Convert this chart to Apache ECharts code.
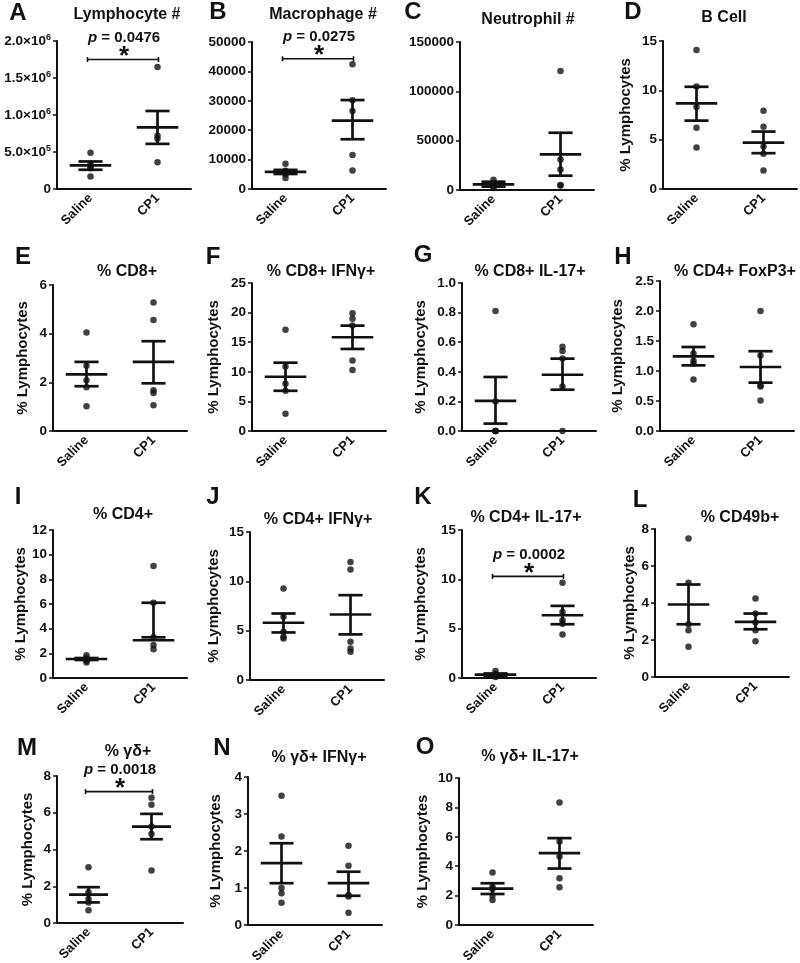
<!DOCTYPE html>
<html>
<head>
<meta charset="utf-8">
<script src="https://cdn.jsdelivr.net/npm/echarts@6.0.0/dist/echarts.min.js"></script>
<style>
html, body { margin: 0; padding: 0; background: #fff; }
#main { width: 800px; height: 963px; }
</style>
</head>
<body>
<div id="main"></div>
<script>
// groups on the x axis of every panel
var groups = ['Saline', 'CP1'];
var letters = ['A', 'B', 'C', 'D', 'E', 'F', 'G', 'H', 'I', 'J', 'K', 'L', 'M', 'N', 'O'];
var titles = ['Lymphocyte #', 'Macrophage #', 'Neutrophil #', 'B Cell',
    '% CD8+', '% CD8+ IFNγ+', '% CD8+ IL-17+', '% CD4+ FoxP3+',
    '% CD4+', '% CD4+ IFNγ+', '% CD4+ IL-17+', '% CD49b+',
    '% γδ+', '% γδ+ IFNγ+', '% γδ+ IL-17+'];

// individual animals
var salinePts = [
    [490000, 330000, 300000, 280000, 170000],
    [8600, 6200, 5800, 5000, 3700],
    [10500, 7000, 6000, 3500, 2000],
    [14.1, 10.4, 8.3, 6.2, 4.2],
    [4.05, 2.68, 2.09, 1.8, 1.02],
    [17.1, 10.9, 8.0, 6.8, 2.9],
    [0.81, 0.2, 0, 0, 0],
    [1.78, 1.29, 1.17, 1.12, 0.86],
    [1.85, 1.6, 1.5, 1.4, 1.25],
    [9.27, 6.4, 4.89, 4.38, 4.21],
    [0.7, 0.4, 0.3, 0.2, 0.1],
    [7.49, 5.09, 2.85, 2.53, 1.63],
    [3.04, 1.67, 1.3, 1.12, 0.69],
    [3.49, 2.39, 1.0, 0.86, 0.6],
    [3.57, 2.6, 2.45, 2.0, 1.7]
];
var cp1Pts = [
    [1650000, 720000, 680000, 360000],
    [42400, 30200, 26500, 11600, 6300],
    [120700, 31000, 20900, 5000, 4500],
    [7.94, 6.32, 4.3, 3.56, 1.88],
    [5.28, 4.56, 1.67, 1.56, 1.06],
    [19.9, 18.95, 17.8, 11.9, 10.3],
    [0.57, 0.54, 0.49, 0.3, 0],
    [2.0, 1.26, 0.76, 0.74, 0.51],
    [9.08, 6.1, 3.3, 2.68, 2.33],
    [11.97, 11.2, 3.88, 3.2, 2.87],
    [9.65, 6.7, 5.86, 5.5, 4.4],
    [4.24, 3.43, 2.95, 2.53, 1.93],
    [6.82, 6.43, 5.25, 4.85, 2.86],
    [2.14, 1.6, 0.81, 0.77, 0.33],
    [8.34, 5.68, 4.66, 3.18, 2.57]
];

// [saline, cp1] centre line and error bar ends
var means = [
    [318000, 834000], [5800, 23250], [5730, 36070], [8.68, 4.71],
    [2.33, 2.84], [9.16, 15.84], [0.203, 0.38], [1.244, 1.067],
    [1.54, 3.06], [5.8, 6.64], [0.35, 6.36], [3.92, 2.98],
    [1.54, 5.25], [1.67, 1.13], [2.48, 4.89]
];
var errHigh = [
    [372000, 1054000], [6500, 30250], [8400, 58000], [10.36, 5.82],
    [2.84, 3.69], [11.54, 17.8], [0.365, 0.489], [1.4, 1.33],
    [1.62, 6.1], [6.74, 8.6], [0.46, 7.31], [5.0, 3.43],
    [1.95, 5.94], [2.21, 1.44], [2.84, 5.91]
];
var errLow = [
    [260000, 610000], [5100, 16930], [3400, 14500], [6.93, 3.63],
    [1.84, 1.96], [6.79, 13.86], [0.05, 0.279], [1.094, 0.806],
    [1.46, 3.3], [4.82, 4.62], [0.24, 5.45], [2.85, 2.58],
    [1.12, 4.56], [1.13, 0.79], [2.11, 3.84]
];

// y axis
var yStep = [500000, 10000, 50000, 5, 2, 5, 0.2, 0.5, 2, 5, 5, 2, 2, 1, 2];
var yTickLabels = [
    ['0', '5.0×10{s|5}', '1.0×10{s|6}', '1.5×10{s|6}', '2.0×10{s|6}'],
    ['0', '10000', '20000', '30000', '40000', '50000'],
    ['0', '50000', '100000', '150000'],
    ['0', '5', '10', '15'],
    ['0', '2', '4', '6'],
    ['0', '5', '10', '15', '20', '25'],
    ['0.0', '0.2', '0.4', '0.6', '0.8', '1.0'],
    ['0.0', '0.5', '1.0', '1.5', '2.0', '2.5'],
    ['0', '2', '4', '6', '8', '10', '12'],
    ['0', '5', '10', '15'],
    ['0', '5', '10', '15'],
    ['0', '2', '4', '6', '8'],
    ['0', '2', '4', '6', '8'],
    ['0', '1', '2', '3', '4'],
    ['0', '2', '4', '6', '8', '10']
];
var yName = '% Lymphocytes';

// significance brackets
var sigPanel = [0, 1, 10, 12];
var sigLevel = [1750000, 44300, 10.3, 7.15];
var sigP = ['0.0476', '0.0275', '0.0002', '0.0018'];

// layout (pixels)
var gridLeft = [57, 252, 460, 663, 53, 252, 462, 660, 53, 250, 462, 655, 57, 248, 459];
var gridTop = [41, 42, 42, 41, 285, 283, 283, 281, 530, 532, 530, 529, 776, 777, 778];
var gridHeight = [148, 147, 148, 148, 146, 148, 148, 150, 148, 148, 148, 148, 147, 148, 147];
var gridWidth = [134, 134, 134, 134, 134, 134, 134, 134, 134, 134, 134, 134, 126, 134, 134];
var nameGap = [0, 0, 0, 30, 23, 31, 34, 35, 23, 29, 34, 14, 22, 25, 29];
var letterPos = [[18, 13], [218, 12], [413, 12], [633, 12], [23, 257], [213, 257], [423, 255], [623, 257],
    [18, 497], [213, 497], [423, 497], [640, 500], [27, 748], [222, 748], [425, 747]];
var titlePos = [[127, 15], [323, 15], [528, 20], [724, 18], [127, 272], [321, 272], [530, 272], [735, 272],
    [123, 515], [318, 520], [526, 518], [740, 518], [128, 752], [319, 758], [530, 757]];

var FONT = '"Liberation Sans", Arial, Helvetica, sans-serif';
var INK = '#111';

function renderErr(params, api) {
    var x = api.value(0);
    var band = api.size([1, 0])[0];
    var pm = api.coord([x, api.value(1)]);
    var pl = api.coord([x, api.value(2)]);
    var ph = api.coord([x, api.value(3)]);
    var wm = band * 0.31, wc = band * 0.18;
    var st = { stroke: INK, lineWidth: 2.7 };
    return {
        type: 'group',
        children: [
            { type: 'line', shape: { x1: ph[0], y1: ph[1], x2: pl[0], y2: pl[1] }, style: st },
            { type: 'line', shape: { x1: pm[0] - wm, y1: pm[1], x2: pm[0] + wm, y2: pm[1] }, style: st },
            { type: 'line', shape: { x1: ph[0] - wc, y1: ph[1], x2: ph[0] + wc, y2: ph[1] }, style: st },
            { type: 'line', shape: { x1: pl[0] - wc, y1: pl[1], x2: pl[0] + wc, y2: pl[1] }, style: st }
        ]
    };
}

function renderSig(params, api) {
    var a = api.coord([api.value(0), api.value(2)]);
    var b = api.coord([api.value(1), api.value(2)]);
    var p = sigP[api.value(3)];
    var st = { stroke: INK, lineWidth: 1.6 };
    var cx = (a[0] + b[0]) / 2;
    return {
        type: 'group',
        children: [
            { type: 'line', shape: { x1: a[0] - 3, y1: a[1], x2: b[0] + 1, y2: b[1] }, style: st },
            { type: 'line', shape: { x1: a[0] - 3, y1: a[1] - 2.5, x2: a[0] - 3, y2: a[1] + 2.5 }, style: st },
            { type: 'line', shape: { x1: b[0] + 1, y1: b[1] - 2.5, x2: b[0] + 1, y2: b[1] + 2.5 }, style: st },
            {
                type: 'text',
                style: { text: '*', x: cx, y: a[1] - 3, fill: INK, font: 'bold 26px ' + FONT, align: 'center', verticalAlign: 'middle' }
            },
            {
                type: 'text',
                style: {
                    text: '{i|p} = ' + p, x: cx, y: a[1] - 22, fill: INK, font: 'bold 15px ' + FONT,
                    align: 'center', verticalAlign: 'middle',
                    rich: { i: { fontStyle: 'italic', fontWeight: 'bold', fontSize: 15, fontFamily: FONT, fill: INK } }
                }
            }
        ]
    };
}

var grids = [], xAxes = [], yAxes = [], series = [], graphics = [];

letters.forEach(function (letter, i) {
    grids.push({
        left: gridLeft[i], top: gridTop[i], width: gridWidth[i], height: gridHeight[i],
        containLabel: false, outerBoundsMode: 'none'
    });
    xAxes.push({
        type: 'category', gridIndex: i, data: groups, boundaryGap: true,
        axisLine: { lineStyle: { color: INK, width: 2 } },
        axisTick: { show: false },
        axisLabel: { rotate: 45, margin: 7, color: INK, fontWeight: 'bold', fontSize: 13, fontFamily: FONT, interval: 0 }
    });
    var labels = yTickLabels[i];
    var step = yStep[i];
    yAxes.push({
        type: 'value', gridIndex: i, min: 0, max: step * (labels.length - 1), interval: step,
        splitLine: { show: false },
        axisLine: { show: true, lineStyle: { color: INK, width: 2 } },
        axisTick: { show: true, length: 4, lineStyle: { color: INK, width: 1.5 } },
        axisLabel: {
            color: INK, fontWeight: 'bold', fontSize: 13.5, fontFamily: FONT, margin: 6,
            formatter: function (v) { return labels[Math.round(v / step)]; },
            rich: { s: { fontSize: 9, fontWeight: 'bold', fontFamily: FONT, color: INK, padding: [0, 0, 7, 0] } }
        },
        name: nameGap[i] ? yName : '', nameLocation: 'middle', nameGap: nameGap[i],
        nameTextStyle: { color: INK, fontWeight: 'bold', fontSize: 15, fontFamily: FONT }
    });

    var pts = salinePts[i].map(function (v) { return [0, v]; })
        .concat(cp1Pts[i].map(function (v) { return [1, v]; }));
    series.push({
        type: 'scatter', xAxisIndex: i, yAxisIndex: i, data: pts,
        symbolSize: 6.5, itemStyle: { color: INK }, z: 2
    });
    series.push({
        type: 'custom', xAxisIndex: i, yAxisIndex: i, renderItem: renderErr, clip: false, z: 3,
        data: [0, 1].map(function (g) { return [g, means[i][g], errLow[i][g], errHigh[i][g]]; })
    });

    var s = sigPanel.indexOf(i);
    if (s >= 0) {
        series.push({
            type: 'custom', xAxisIndex: i, yAxisIndex: i, renderItem: renderSig, clip: false, z: 4,
            data: [[0, 1, sigLevel[s], s]]
        });
    }

    graphics.push({
        type: 'text', x: letterPos[i][0], y: letterPos[i][1],
        style: { text: letter, font: 'bold 24px ' + FONT, fill: INK, align: 'center', verticalAlign: 'middle', textAlign: 'center', textVerticalAlign: 'middle' }
    });
    graphics.push({
        type: 'text', x: titlePos[i][0], y: titlePos[i][1],
        style: { text: titles[i], font: 'bold 16px ' + FONT, fill: INK, align: 'center', verticalAlign: 'middle', textAlign: 'center', textVerticalAlign: 'middle' }
    });
});

var myChart = echarts.init(document.getElementById('main'), null, { renderer: 'canvas' });
myChart.setOption({
    backgroundColor: '#fff',
    animation: false,
    grid: grids,
    xAxis: xAxes,
    yAxis: yAxes,
    series: series,
    graphic: graphics
});
</script>
</body>
</html>
